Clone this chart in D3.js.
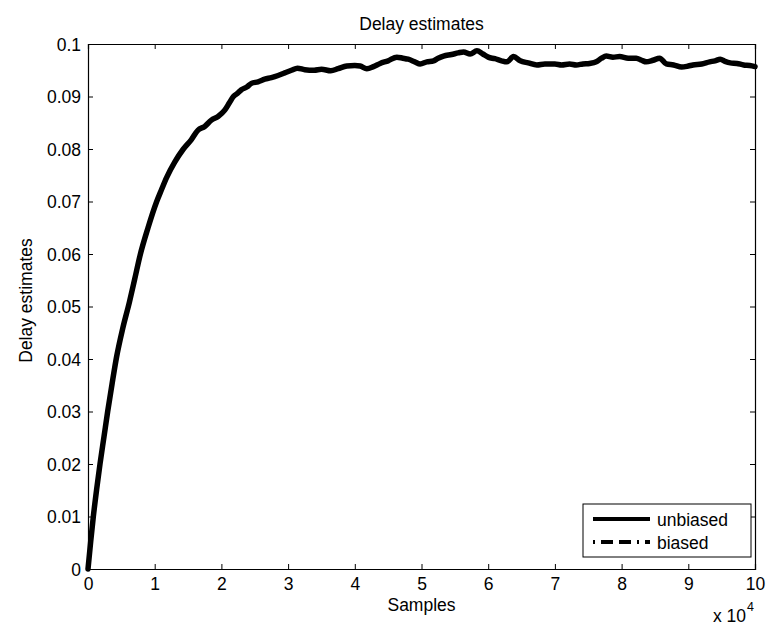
<!DOCTYPE html>
<html><head><meta charset="utf-8">
<script src="https://cdn.jsdelivr.net/npm/d3@7"></script>
<style>body{margin:0;background:#fff}svg{display:block}text{font-family:"Liberation Sans",Arial,Helvetica,sans-serif;fill:#000}</style>
</head><body>
<svg id="chart" width="767" height="626"></svg>
<script>
// samples (x 10^4)
const samples = [0,0.04,0.08,0.13,0.18,0.24,0.295,0.36,0.43,0.52,0.62,0.70,0.78,0.90,1.03,1.10,1.18,1.30,1.43,1.55,1.65,1.75,1.85,1.95,2.05,2.12,2.18,2.24,2.30,2.38,2.45,2.55,2.65,2.75,2.85,2.95,3.05,3.14,3.25,3.39,3.5,3.64,3.75,3.88,4.0,4.08,4.18,4.28,4.38,4.5,4.63,4.72,4.8,4.9,4.98,5.08,5.18,5.25,5.33,5.45,5.55,5.63,5.73,5.83,5.92,6.0,6.1,6.2,6.28,6.38,6.48,6.6,6.73,6.85,7.0,7.1,7.22,7.32,7.42,7.52,7.62,7.7,7.77,7.87,7.97,8.1,8.22,8.3,8.37,8.47,8.57,8.67,8.78,8.9,9.0,9.07,9.2,9.32,9.4,9.48,9.55,9.63,9.73,9.83,9.92,10.0];
const unbiased = [0,0.0052,0.0100,0.0152,0.0200,0.0252,0.0300,0.0352,0.0405,0.0458,0.0508,0.0552,0.0597,0.0650,0.0700,0.0722,0.0746,0.0775,0.0800,0.0818,0.0836,0.0843,0.0855,0.0862,0.0874,0.0888,0.0900,0.0906,0.0913,0.0918,0.0925,0.0928,0.0933,0.0936,0.0940,0.0945,0.0950,0.0954,0.0951,0.0950,0.0952,0.0949,0.0953,0.0958,0.0959,0.0958,0.0953,0.0957,0.0963,0.0968,0.0975,0.0973,0.0971,0.0966,0.0962,0.0966,0.0968,0.0973,0.0977,0.0980,0.0983,0.0985,0.0981,0.0987,0.0981,0.0975,0.0972,0.0968,0.0966,0.0976,0.0968,0.0964,0.0960,0.0962,0.0962,0.0960,0.0962,0.0960,0.0962,0.0963,0.0966,0.0973,0.0977,0.0975,0.0976,0.0973,0.0973,0.0969,0.0966,0.0969,0.0973,0.0962,0.0960,0.0956,0.0958,0.0960,0.0962,0.0966,0.0968,0.0971,0.0967,0.0964,0.0963,0.0960,0.0959,0.0957];
const biased = unbiased.slice();
const xTicks = [0,1,2,3,4,5,6,7,8,9,10];
const yTicks = [0,0.01,0.02,0.03,0.04,0.05,0.06,0.07,0.08,0.09,0.1];
const seriesNames = ["unbiased","biased"];

const W = 767, H = 626;
const m = {left:88, right:12, top:44, bottom:57};
const svg = d3.select("#chart");
const x = d3.scaleLinear().domain([0,10]).range([m.left, W - m.right]);
const y = d3.scaleLinear().domain([0,0.1]).range([H - m.bottom, m.top]);
const FS = 17.5;

const line = d3.line().x((d,i)=>x(samples[i])).y(d=>y(d)).curve(d3.curveMonotoneX);
svg.append("path").datum(unbiased).attr("d", line)
  .attr("fill","none").attr("stroke","#000").attr("stroke-width",5.5)
  .attr("stroke-linejoin","round").attr("stroke-linecap","round");
svg.append("path").datum(biased).attr("d", line)
  .attr("fill","none").attr("stroke","#000").attr("stroke-width",3)
  .attr("stroke-dasharray","10,4,2,4");

// axes
const fmtY = d => d === 0 ? "0" : String(+d.toFixed(2));
const gBottom = svg.append("g").attr("transform",`translate(0,${H-m.bottom})`)
  .call(d3.axisBottom(x).tickValues(xTicks).tickSize(-5).tickPadding(12).tickFormat(d=>d));
const gTop = svg.append("g").attr("transform",`translate(0,${m.top})`)
  .call(d3.axisTop(x).tickValues(xTicks).tickSize(-5).tickFormat(""));
const gLeft = svg.append("g").attr("transform",`translate(${m.left},0)`)
  .call(d3.axisLeft(y).tickValues(yTicks).tickSize(-5).tickPadding(8).tickFormat(fmtY));
const gRight = svg.append("g").attr("transform",`translate(${W-m.right},0)`)
  .call(d3.axisRight(y).tickValues(yTicks).tickSize(-5).tickFormat(""));
[gBottom,gTop,gLeft,gRight].forEach(g=>{
  g.selectAll("path.domain").attr("stroke","#000").attr("stroke-width",1.2);
  g.selectAll(".tick line").attr("stroke","#000").attr("stroke-width",1);
  g.selectAll(".tick text").attr("font-size",FS).attr("font-family",'"Liberation Sans",Arial,sans-serif').attr("fill","#000");
});
gBottom.selectAll(".tick text").attr("dy","0.71em").attr("y",9);
gLeft.selectAll(".tick text").attr("dy","0.35em").attr("x",-7);

// title & labels
svg.append("text").attr("x",(m.left+W-m.right)/2).attr("y",30).attr("text-anchor","middle")
  .attr("font-size",FS).text("Delay estimates");
svg.append("text").attr("x",(m.left+W-m.right)/2).attr("y",611).attr("text-anchor","middle")
  .attr("font-size",FS).text("Samples");
svg.append("text").attr("transform",`translate(32,${(m.top+H-m.bottom)/2 - 6}) rotate(-90)`)
  .attr("text-anchor","middle").attr("font-size",FS).text("Delay estimates");
const expo = svg.append("text").attr("x",713).attr("y",622).attr("font-size",FS);
expo.append("tspan").text("x 10");
expo.append("tspan").attr("dy",-11).attr("dx",1).attr("font-size",12.5).text("4");

// legend
const lg = svg.append("g");
lg.append("rect").attr("x",583).attr("y",504).attr("width",168).attr("height",53)
  .attr("fill","#fff").attr("stroke","#000").attr("stroke-width",1);
const rows = [{n:seriesNames[0],dash:null,yy:519,w:4},{n:seriesNames[1],dash:"2,6,12,6,12,6",yy:542,w:4}];
rows.forEach(r=>{
  const l = lg.append("line").attr("x1",593).attr("x2",650).attr("y1",r.yy).attr("y2",r.yy)
    .attr("stroke","#000").attr("stroke-width",r.w);
  if (r.dash) l.attr("stroke-dasharray",r.dash);
  lg.append("text").attr("x",657).attr("y",r.yy+7).attr("font-size",FS).text(r.n);
});
</script>
</body></html>
